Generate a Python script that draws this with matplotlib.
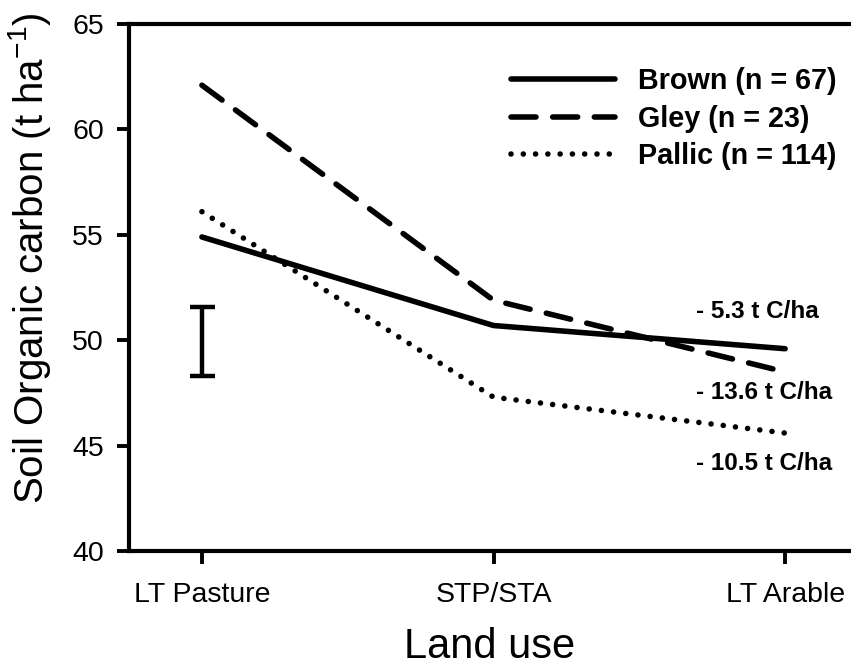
import matplotlib
matplotlib.use('Agg')
import matplotlib.pyplot as plt
import numpy as np

plt.rcParams['font.family'] = ['Liberation Sans', 'DejaVu Sans']
plt.rcParams['mathtext.fontset'] = 'custom'
plt.rcParams['mathtext.rm'] = 'Liberation Sans'

# data
land_use = ['LT Pasture', 'STP/STA', 'LT Arable']
brown = [54.9, 50.7, 49.6]
gley = [62.1, 51.9, 48.5]
pallic = [56.1, 47.3, 45.6]
labels = ['Brown (n = 67)', 'Gley (n = 23)', 'Pallic (n = 114)']
changes = ['- 5.3 t C/ha', '- 13.6 t C/ha', '- 10.5 t C/ha']
change_y = [51.35, 47.5, 44.15]
err_center = 49.95
err_half = 1.65

fig = plt.figure(figsize=(8.51, 6.68), dpi=100)
ax = fig.add_axes([0.1516, 0.175, 0.8484, 0.789])

x = np.arange(len(land_use))
lw = 4
ax.plot(x, brown, color='black', lw=lw, solid_capstyle='round', label=labels[0])
ax.plot(x, gley, color='black', lw=lw, dashes=(4.5, 3), dash_capstyle='round', label=labels[1])
ax.plot(x, pallic, color='black', lw=lw, dashes=(0.01, 2.2), dash_capstyle='round', label=labels[2])

ax.errorbar([0], [err_center], yerr=[err_half], color='black', elinewidth=3.2, capsize=9, capthick=3.2)

for t, yy in zip(changes, change_y):
    ax.text(1.695, yy, t, fontsize=17.5, fontweight='bold', va='center', ha='left')

ax.set_xlim(-0.25, 2.226)
ax.set_ylim(40, 65)
ax.set_yticks([40, 45, 50, 55, 60, 65])
ax.set_xticks(x)
ax.set_xticklabels(land_use)

for s in ['left', 'bottom', 'top']:
    ax.spines[s].set_linewidth(3)
ax.spines['right'].set_visible(False)
ax.tick_params(axis='both', direction='out', length=9, width=2.8, labelsize=20.5)
ax.tick_params(axis='y', pad=9)
ax.tick_params(axis='x', pad=13)

ax.set_xlabel('Land use', fontsize=30, labelpad=14)
ax.set_ylabel(r'Soil Organic carbon (t ha$^{\mathregular{-1}}$)', fontsize=29)
ax.yaxis.set_label_coords(-0.105, 0.556)

leg = ax.legend(loc='upper right', bbox_to_anchor=(1.0, 0.945), frameon=False,
                prop={'size': 20.7, 'weight': 'bold'}, handlelength=3.63,
                handletextpad=0.8, labelspacing=0.32, borderpad=0)

fig.savefig('out.png', dpi=100)
